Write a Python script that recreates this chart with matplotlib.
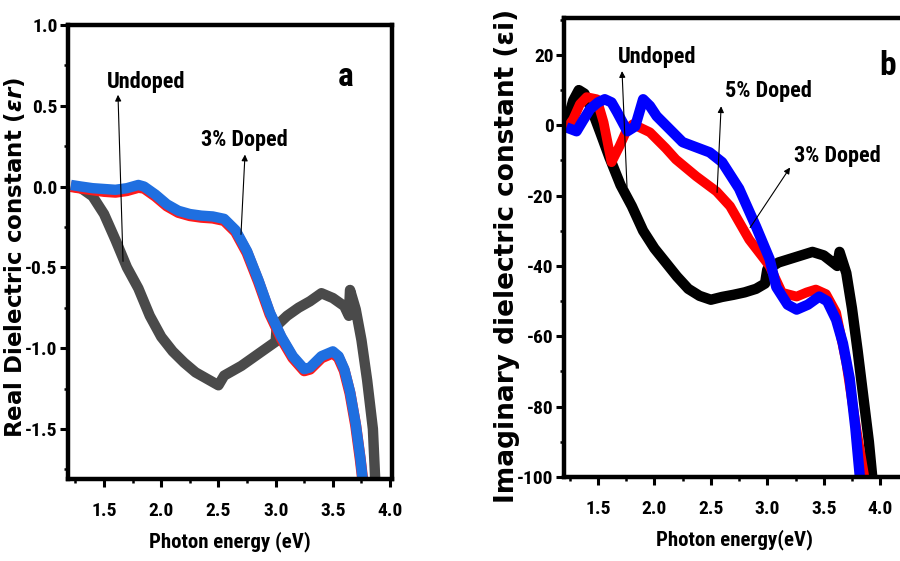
import matplotlib
matplotlib.use("Agg")
import matplotlib.pyplot as plt
from matplotlib.ticker import MultipleLocator

plt.rcParams['font.family'] = ['Roboto Condensed', 'Liberation Sans Narrow', 'Liberation Sans', 'DejaVu Sans']
plt.rcParams['font.weight'] = 'bold'
plt.rcParams['axes.unicode_minus'] = False

# panel a - real part
a_und_x = [1.22, 1.30, 1.40, 1.50, 1.60, 1.70, 1.80, 1.90, 2.00, 2.10, 2.20, 2.30, 2.40, 2.50,
           2.55, 2.60, 2.70, 2.80, 2.90, 3.00, 3.01, 3.10, 3.20, 3.30, 3.40, 3.50, 3.60, 3.64,
           3.65, 3.70, 3.75, 3.80, 3.85, 3.87]
a_und_y = [0.00, -0.01, -0.06, -0.17, -0.33, -0.50, -0.63, -0.80, -0.93, -1.02, -1.09, -1.15, -1.19, -1.23,
           -1.17, -1.15, -1.11, -1.06, -1.01, -0.96, -0.86, -0.80, -0.75, -0.71, -0.66, -0.69, -0.74, -0.80,
           -0.64, -0.76, -0.95, -1.20, -1.50, -1.81]
a_dop_x = [1.21, 1.30, 1.40, 1.50, 1.60, 1.70, 1.80, 1.85, 1.95, 2.05, 2.15, 2.25, 2.35, 2.45, 2.55,
           2.65, 2.75, 2.85, 2.95, 3.05, 3.15, 3.25, 3.30, 3.40, 3.50, 3.55, 3.60, 3.65, 3.70, 3.74, 3.76]
a_dop_y = [0.01, 0.00, -0.01, -0.015, -0.02, -0.01, 0.01, 0.00, -0.05, -0.11, -0.15, -0.17, -0.18, -0.185, -0.20,
           -0.27, -0.40, -0.58, -0.78, -0.93, -1.05, -1.13, -1.12, -1.05, -1.02, -1.05, -1.13, -1.27, -1.47, -1.68, -1.81]
a_red_y = [0.00, -0.01, -0.02, -0.03, -0.035, -0.025, -0.005, -0.01, -0.06, -0.12, -0.16, -0.18, -0.19, -0.195, -0.21,
           -0.28, -0.41, -0.59, -0.79, -0.94, -1.06, -1.14, -1.13, -1.06, -1.03, -1.06, -1.14, -1.28, -1.48, -1.69, -1.81]

# panel b - imaginary part
b_und_x = [1.22, 1.28, 1.33, 1.38, 1.45, 1.52, 1.60, 1.70, 1.80, 1.90, 2.00, 2.10, 2.20, 2.30, 2.40, 2.50,
           2.60, 2.70, 2.80, 2.90, 2.98, 3.00, 3.10, 3.20, 3.30, 3.40, 3.50, 3.58, 3.62, 3.64, 3.70, 3.75,
           3.80, 3.85, 3.90, 3.93]
b_und_y = [0, 7, 10, 9, 4, -2, -9, -17, -23, -30, -35, -39, -43, -46.5, -48.5, -49.6,
           -48.8, -48.2, -47.5, -46.5, -45, -41, -39, -38, -37, -36, -37, -39, -40, -36, -42, -52,
           -64, -77, -90, -100]
b_3_x = [1.22, 1.28, 1.34, 1.40, 1.49, 1.55, 1.62, 1.69, 1.76, 1.81, 1.96, 2.10, 2.19, 2.37, 2.55, 2.67,
         2.84, 3.02, 3.13, 3.26, 3.35, 3.43, 3.52, 3.61, 3.70, 3.79, 3.86]
b_3_y = [-1, 1.7, 6, 8, 7.4, 0.8, -10.5, -6, -1, 0.3, -2, -6.5, -9.7, -14.5, -18.8, -23,
         -32.5, -40, -47.6, -48.7, -47.5, -46.7, -48, -53.3, -67.5, -86.6, -100]
b_5_x = [1.22, 1.31, 1.37, 1.43, 1.50, 1.56, 1.62, 1.67, 1.76, 1.83, 1.90, 1.96, 2.02, 2.25, 2.49, 2.60,
         2.75, 2.90, 3.02, 3.08, 3.18, 3.26, 3.36, 3.46, 3.53, 3.61, 3.67, 3.73, 3.78, 3.82]
b_5_y = [-0.6, -1.7, 1.5, 4.6, 6.5, 7.4, 6.5, 3.7, -1.7, -0.3, 7.4, 5.5, 2.6, -4.8, -7.7, -10.5,
         -18, -28.8, -38, -46, -51, -52.4, -51, -48.7, -50, -55.3, -62, -72, -86, -100]

fig = plt.figure(figsize=(9, 5.61), dpi=100)
W, H = 900, 561


def axes_px(l, t, r, b):
    return fig.add_axes([l / W, 1 - b / H, (r - l) / W, (b - t) / H])


def style(ax):
    for s in ax.spines.values():
        s.set_linewidth(3.2)
    ax.tick_params(which='major', direction='out', length=5.5, width=2.2, labelsize=14, pad=2)
    ax.tick_params(which='minor', direction='out', length=3, width=1.8)
    ax.tick_params(axis='x', which='major', pad=11)
    ax.tick_params(top=False, right=False)


arrow = dict(arrowstyle='-|>', lw=0.8, color='k', mutation_scale=9, shrinkA=0, shrinkB=0)
ann = 16   # annotation text size
lab = 15   # x label size

# ---- panel a
ax1 = axes_px(68, 25, 392, 479)
ax1.plot(a_und_x, a_und_y, color='#4a4a4a', lw=7.5, solid_capstyle='butt')
ax1.plot(a_dop_x, a_red_y, color='#ff1a1a', lw=8, solid_capstyle='butt')
ax1.plot(a_dop_x, a_dop_y, color='#1f6fe0', lw=7.5, solid_capstyle='butt')
ax1.set_xlim(1.185, 4.017)
ax1.set_ylim(-1.81, 1.0)
ax1.xaxis.set_major_locator(MultipleLocator(0.5))
ax1.xaxis.set_minor_locator(MultipleLocator(0.25))
ax1.yaxis.set_major_locator(MultipleLocator(0.5))
ax1.yaxis.set_minor_locator(MultipleLocator(0.25))
style(ax1)
ax1.set_xlabel('Photon energy (eV)', fontsize=lab, fontweight='bold', labelpad=8)
ax1.annotate('', xy=(1.622, 0.568), xytext=(1.666, -0.463), arrowprops=arrow)
ax1.text(1.867, 0.648, 'Undoped', fontsize=ann, ha='center', va='center')
ax1.annotate('', xy=(2.732, 0.198), xytext=(2.697, -0.296), arrowprops=arrow)
ax1.text(2.724, 0.29, '3% Doped', fontsize=ann, ha='center', va='center')
ax1.text(3.61, 0.68, 'a', fontsize=24, ha='center', va='center')
fig.text(15 / W, 1 - 258 / H, r'Real Dielectric constant ($\varepsilon r$)', rotation=90,
         ha='center', va='center', fontsize=16.5, fontweight='bold', family='DejaVu Sans')

# ---- panel b
ax2 = axes_px(564, 18, 905, 477)
ax2.plot(b_und_x, b_und_y, color='black', lw=7.5, solid_capstyle='butt')
ax2.plot(b_3_x, b_3_y, color='#ff0000', lw=7, solid_capstyle='butt')
ax2.plot(b_5_x, b_5_y, color='#0000ff', lw=7.5, solid_capstyle='butt')
ax2.set_xlim(1.199, 4.22)
ax2.set_ylim(-100, 30.5)
ax2.xaxis.set_major_locator(MultipleLocator(0.5))
ax2.xaxis.set_minor_locator(MultipleLocator(0.25))
ax2.yaxis.set_major_locator(MultipleLocator(20))
ax2.yaxis.set_minor_locator(MultipleLocator(10))
style(ax2)
ax2.set_xlabel('Photon energy(eV)', fontsize=lab, fontweight='bold', labelpad=8)
ax2.annotate('', xy=(1.713, 15.4), xytext=(1.757, -17.4), arrowprops=arrow)
ax2.text(2.023, 19.4, 'Undoped', fontsize=ann, ha='center', va='center')
ax2.annotate('', xy=(2.591, 5.4), xytext=(2.555, -19.1), arrowprops=arrow)
ax2.text(3.007, 9.7, '5% Doped', fontsize=ann, ha='center', va='center')
ax2.annotate('', xy=(3.202, -12.0), xytext=(2.848, -29.1), arrowprops=arrow)
ax2.text(3.619, -8.8, '3% Doped', fontsize=ann, ha='center', va='center')
ax2.text(4.062, 16.8, 'b', fontsize=24, ha='center', va='center')
fig.text(507 / W, 1 - 256 / H, 'Imaginary dielectric constant (\u03b5i)', rotation=90,
         ha='center', va='center', fontsize=19, fontweight='bold', family='DejaVu Sans')

fig.savefig('out.png', dpi=100)
